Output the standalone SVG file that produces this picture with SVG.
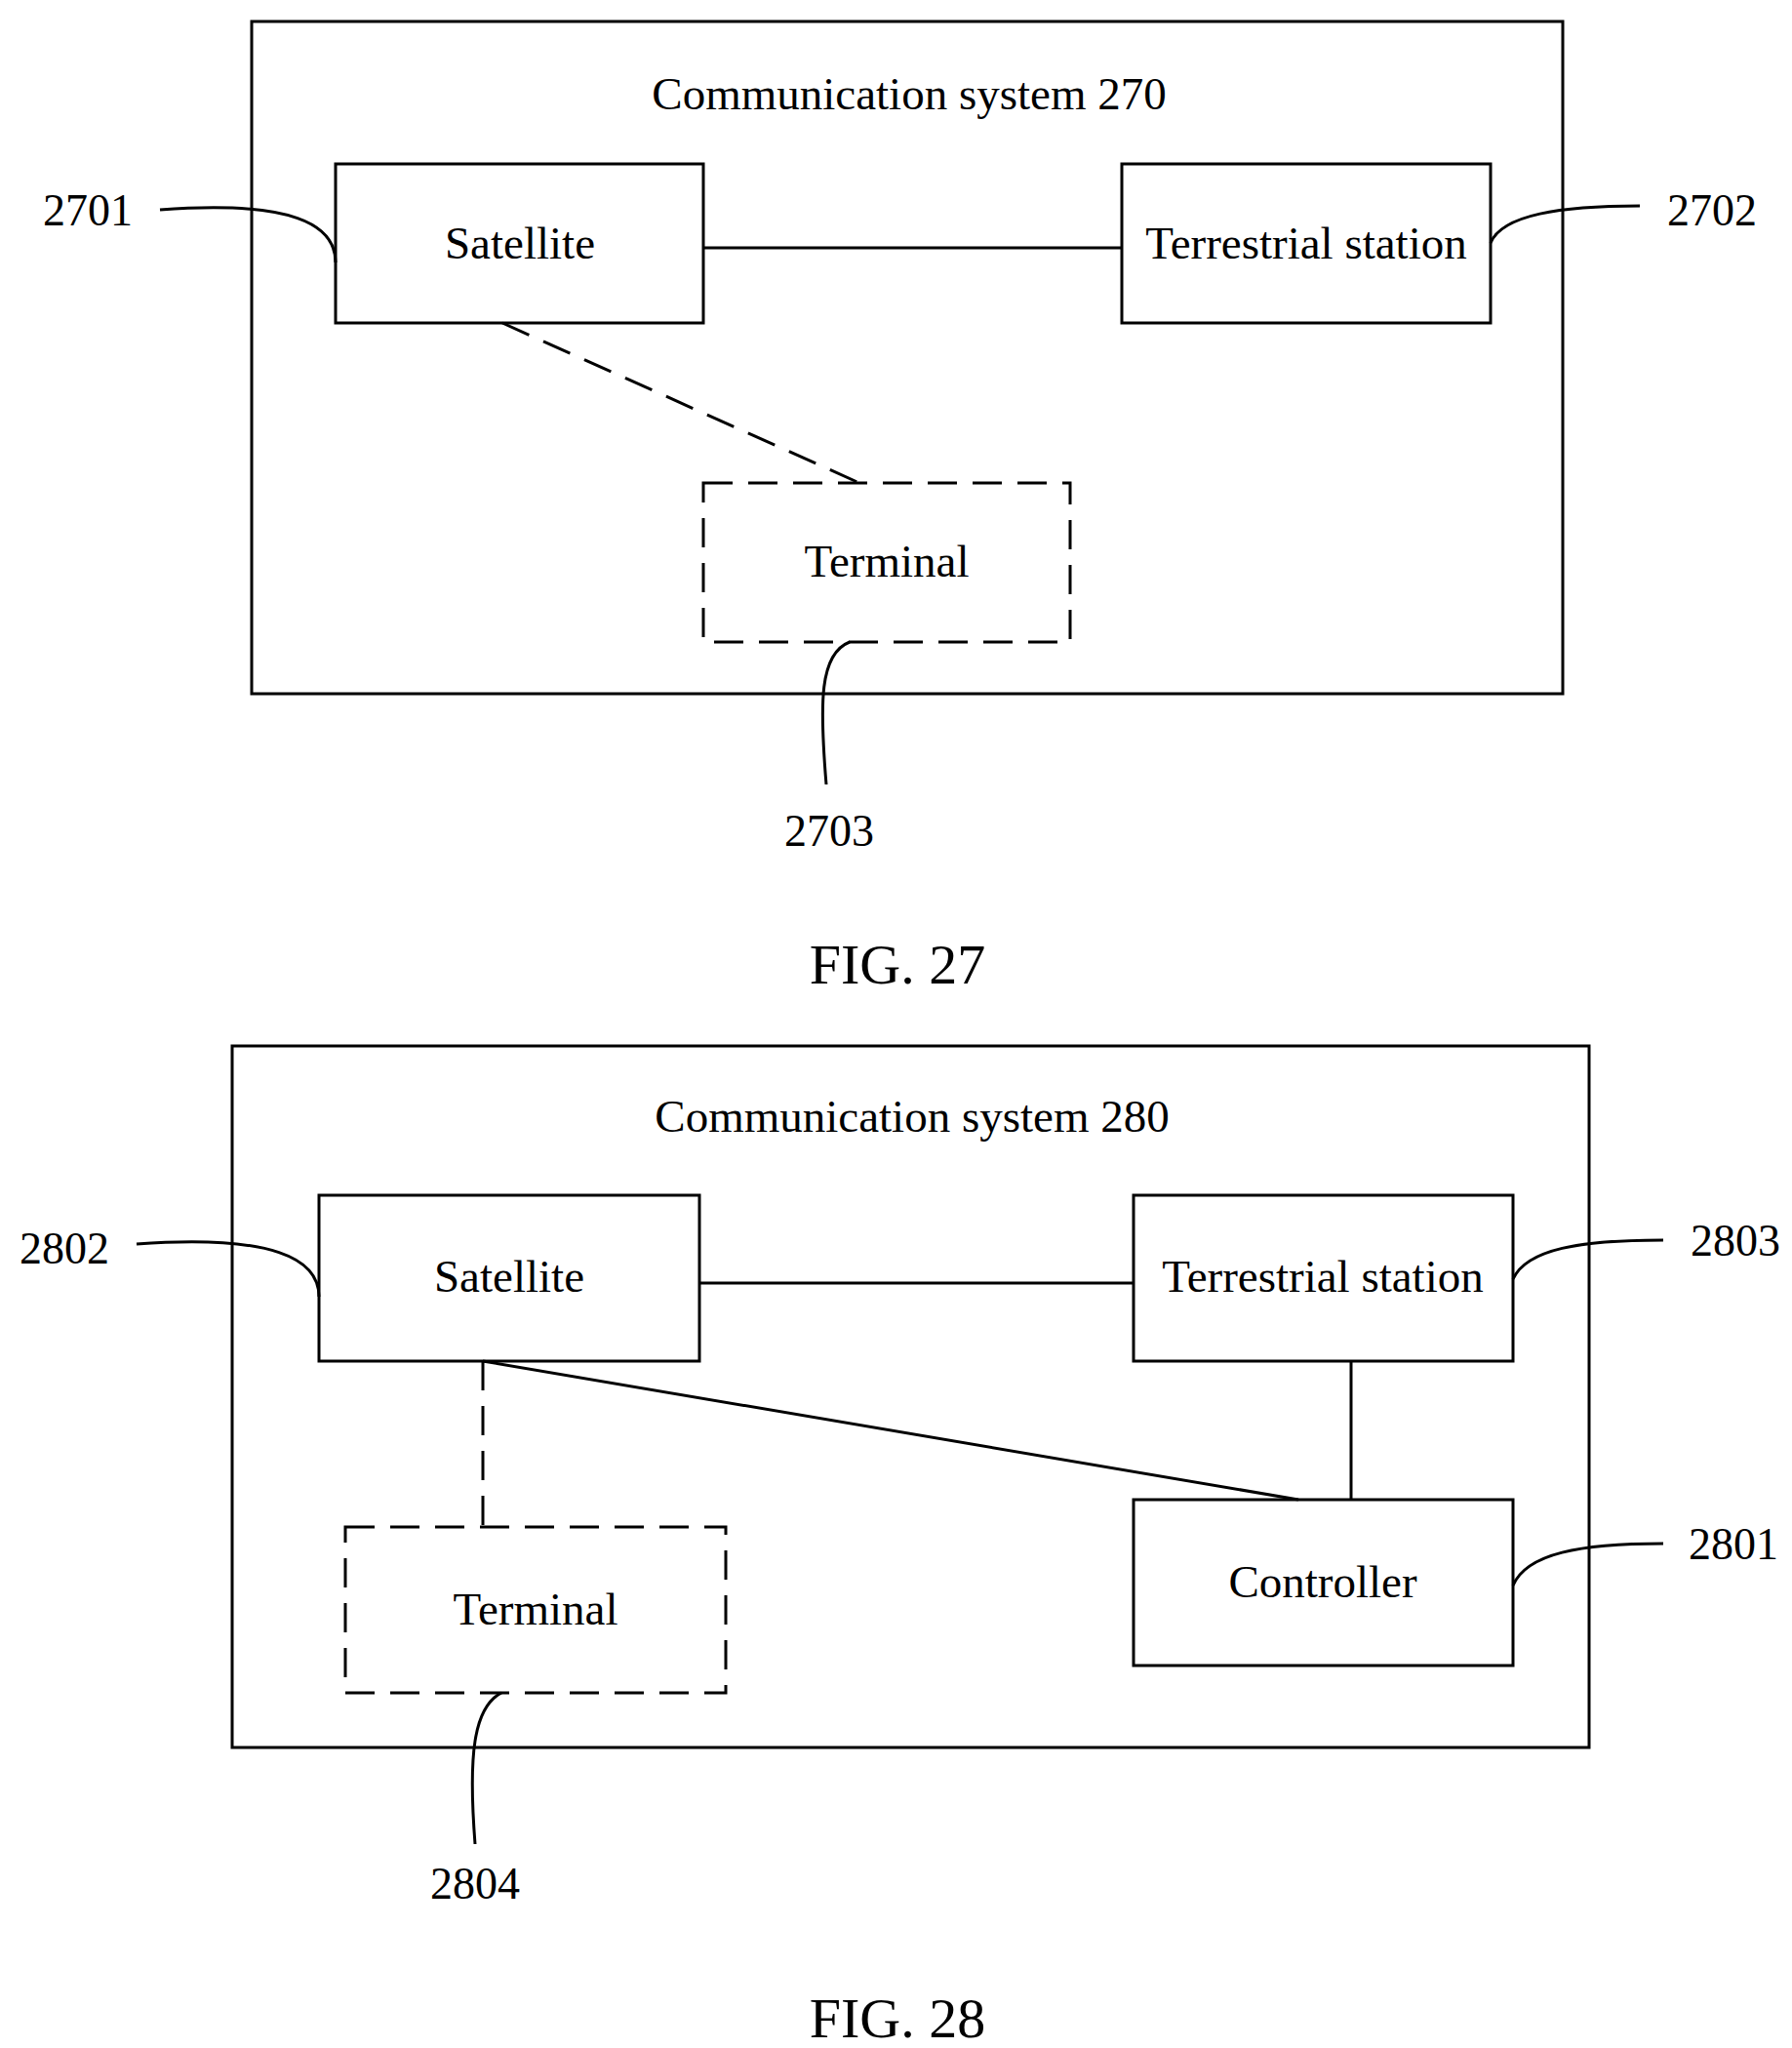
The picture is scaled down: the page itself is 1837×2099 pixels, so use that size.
<svg xmlns="http://www.w3.org/2000/svg" width="1837" height="2099" viewBox="0 0 1837 2099">
<style>
text{font-family:"Liberation Serif","Times New Roman",serif;font-size:47px;fill:#000;text-anchor:middle}
.b{fill:none;stroke:#000;stroke-width:3}
.d{fill:none;stroke:#000;stroke-width:3;stroke-dasharray:30,16}
.fig{font-size:58px}
.n{font-size:46px}
</style>
<rect width="1837" height="2099" fill="#fff"/>
<g id="fig27">
<rect id="system270" class="b" x="258" y="22" width="1344" height="689"/>
<text x="932" y="112">Communication system 270</text>
<g id="sat27"><rect class="b" x="344" y="168" width="377" height="163"/><text x="533" y="265">Satellite</text></g>
<g id="ter27"><rect class="b" x="1150" y="168" width="378" height="163"/><text x="1339" y="265">Terrestrial station</text></g>
<g id="term27"><rect class="d" x="721" y="495" width="376" height="163"/><text x="909" y="591">Terminal</text></g>
<g id="conn27">
<line class="b" x1="721" y1="254" x2="1150" y2="254"/>
<line class="d" x1="515" y1="331" x2="881" y2="495"/>
<path class="b" d="M164,215 C300,205 344,230 344,269"/>
<path class="b" d="M1528,249 C1540,220 1600,211 1681,211"/>
<path class="b" d="M871,658 C840,670 840,720 847,804"/>
</g>
<text class="n" x="90" y="231">2701</text>
<text class="n" x="1755" y="231">2702</text>
<text class="n" x="850" y="867">2703</text>
<text class="fig" x="920" y="1008">FIG. 27</text>
</g>
<g id="fig28">
<rect id="system280" class="b" x="238" y="1072" width="1391" height="719"/>
<text x="935" y="1160">Communication system 280</text>
<g id="sat28"><rect class="b" x="327" y="1225" width="390" height="170"/><text x="522" y="1324">Satellite</text></g>
<g id="ter28"><rect class="b" x="1162" y="1225" width="389" height="170"/><text x="1356" y="1324">Terrestrial station</text></g>
<g id="ctrl28"><rect class="b" x="1162" y="1537" width="389" height="170"/><text x="1356" y="1637">Controller</text></g>
<g id="term28"><rect class="d" x="354" y="1565" width="390" height="170"/><text x="549" y="1665">Terminal</text></g>
<g id="conn28">
<line class="b" x1="717" y1="1315" x2="1162" y2="1315"/>
<line class="b" x1="495" y1="1395" x2="1331" y2="1537"/>
<line class="b" x1="1385" y1="1395" x2="1385" y2="1537"/>
<line class="d" x1="495" y1="1395" x2="495" y2="1565"/>
<path class="b" d="M140,1275 C280,1265 327,1290 327,1329"/>
<path class="b" d="M1551,1311 C1565,1280 1620,1271 1705,1271"/>
<path class="b" d="M1551,1625 C1565,1592 1620,1582 1705,1582"/>
<path class="b" d="M514,1735 C485,1750 480,1800 487,1890"/>
</g>
<text class="n" x="66" y="1295">2802</text>
<text class="n" x="1779" y="1287">2803</text>
<text class="n" x="1777" y="1598">2801</text>
<text class="n" x="487" y="1946">2804</text>
<text class="fig" x="920" y="2088">FIG. 28</text>
</g>
</svg>
